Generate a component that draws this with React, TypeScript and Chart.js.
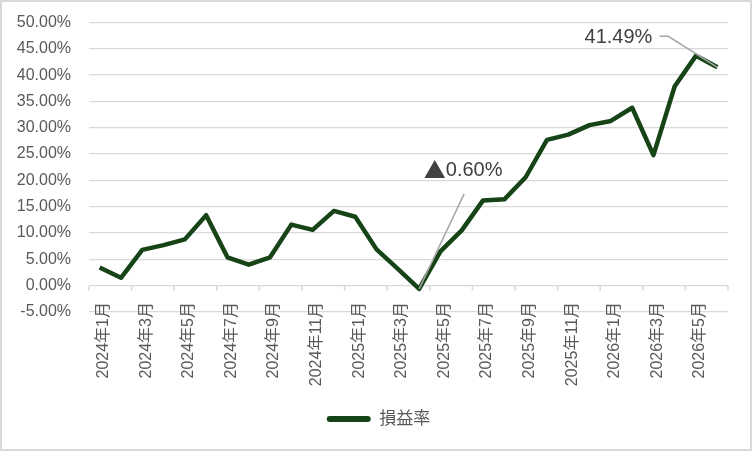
import { useEffect, useRef } from "react";
import Chart from "chart.js/auto";

const months = [
  "2024年1月", "2024年2月", "2024年3月", "2024年4月", "2024年5月", "2024年6月",
  "2024年7月", "2024年8月", "2024年9月", "2024年10月", "2024年11月", "2024年12月",
  "2025年1月", "2025年2月", "2025年3月", "2025年4月", "2025年5月", "2025年6月",
  "2025年7月", "2025年8月", "2025年9月", "2025年10月", "2025年11月", "2025年12月",
  "2026年1月", "2026年2月", "2026年3月", "2026年4月", "2026年5月", "2026年6月",
];

// 損益率 (%)
const profitRate = [
  3.45, 1.5, 6.8, 7.7, 8.8, 13.4, 5.4, 4.0, 5.4, 11.6, 10.6, 14.2, 13.1, 6.9, 3.2,
  -0.6, 6.5, 10.5, 16.2, 16.4, 20.6, 27.7, 28.7, 30.5, 31.3, 33.8, 24.8, 37.9, 43.7,
  41.49,
];

// points that carry a data label
const labelledPoints = [15, 29];

const FONT = "'Liberation Sans', 'Noto Sans CJK JP', sans-serif";
const GREEN = "#174417";
const GRID = "#d9d9d9";
const TEXT = "#595959";

// zero line tick marks (every two months) and the rotated month labels
const monthAxis = {
  id: "monthAxis",
  afterDraw(chart: any) {
    const x = chart.scales.x;
    const y = chart.scales.y;
    const ctx = chart.ctx;
    const y0 = y.getPixelForValue(0);
    const step = x.getPixelForValue(1) - x.getPixelForValue(0);
    ctx.save();
    ctx.strokeStyle = GRID;
    ctx.lineWidth = 1.5;
    ctx.beginPath();
    for (let i = 0; i <= months.length; i += 2) {
      const px = x.getPixelForValue(0) - step / 2 + i * step;
      ctx.moveTo(px, y0);
      ctx.lineTo(px, y0 + 5);
    }
    ctx.stroke();

    ctx.fillStyle = TEXT;
    ctx.font = `16px ${FONT}`;
    ctx.textAlign = "right";
    ctx.textBaseline = "middle";
    const top = y.getPixelForValue(-5) - 10;
    for (let i = 0; i < months.length; i += 2) {
      ctx.save();
      ctx.translate(x.getPixelForValue(i) + 4, top);
      ctx.rotate(-Math.PI / 2);
      ctx.fillText(months[i], 0, 0);
      ctx.restore();
    }
    ctx.restore();
  },
};

// data labels with leader lines
const leaders = {
  id: "leaders",
  afterDatasetsDraw(chart: any) {
    const meta = chart.getDatasetMeta(0);
    const ctx = chart.ctx;
    ctx.save();
    ctx.textBaseline = "middle";
    labelledPoints.forEach((i) => {
      const pt = meta.data[i];
      const v = profitRate[i];
      ctx.strokeStyle = "#a6a6a6";
      ctx.lineWidth = 1.5;
      ctx.fillStyle = "#404040";
      ctx.beginPath();
      if (v < 0) {
        ctx.moveTo(pt.x, pt.y);
        ctx.lineTo(pt.x + 45, pt.y - 95);
        ctx.stroke();
        const num = Math.abs(v).toFixed(2) + "%";
        ctx.font = `20px ${FONT}`;
        const numW = ctx.measureText(num).width;
        ctx.font = `22px 'Noto Sans CJK JP', sans-serif`;
        const triW = ctx.measureText("▲").width;
        const left = pt.x + 44 - (numW + triW) / 2;
        ctx.textAlign = "left";
        ctx.fillText("▲", left, pt.y - 119);
        ctx.font = `20px ${FONT}`;
        ctx.fillText(num, left + triW, pt.y - 118);
      } else {
        ctx.moveTo(pt.x, pt.y);
        ctx.lineTo(pt.x - 49, pt.y - 31);
        ctx.lineTo(pt.x - 58, pt.y - 31);
        ctx.stroke();
        ctx.font = `20px ${FONT}`;
        ctx.textAlign = "right";
        ctx.fillText(v.toFixed(2) + "%", pt.x - 65, pt.y - 30);
      }
    });
    ctx.restore();
  },
};

export default function App() {
  const canvasRef = useRef<HTMLCanvasElement>(null);

  useEffect(() => {
    document.body.style.margin = "0";
    if (!canvasRef.current) return;
    const chart = new Chart(canvasRef.current, {
      type: "line",
      data: {
        labels: months,
        datasets: [
          {
            label: "損益率",
            data: profitRate,
            borderColor: GREEN,
            backgroundColor: GREEN,
            borderWidth: 4.5,
            borderJoinStyle: "round",
            pointRadius: 0,
            tension: 0,
          },
        ],
      },
      options: {
        animation: false,
        responsive: true,
        maintainAspectRatio: false,
        layout: {
          autoPadding: false,
          padding: { top: 20.5, right: 0, left: 5, bottom: 11.5 },
        },
        plugins: {
          tooltip: { enabled: false },
          legend: {
            position: "bottom",
            labels: {
              font: { family: FONT, size: 17 },
              color: TEXT,
              boxWidth: 44,
              boxHeight: 6,
              useBorderRadius: true,
              borderRadius: 3,
              padding: 10,
              generateLabels: (c: any) =>
                Chart.defaults.plugins.legend.labels
                  .generateLabels(c)
                  .map((l: any) => ({ ...l, lineWidth: 0.01, strokeStyle: "rgba(0,0,0,0)" })),
            },
          },
        },
        scales: {
          x: {
            offset: true,
            grid: { display: false, drawTicks: false },
            border: { display: false },
            ticks: { display: false },
            afterFit: (s: any) => {
              s.height = 88.5;
            },
          },
          y: {
            min: -5,
            max: 50,
            grid: { color: GRID, lineWidth: 1.3, drawTicks: false },
            border: { display: false },
            ticks: {
              stepSize: 5,
              padding: 18,
              color: TEXT,
              font: { family: FONT, size: 16 },
              callback: (v: any) => Number(v).toFixed(2) + "%",
            },
            afterFit: (s: any) => {
              s.width = 82;
              s.paddingTop = 0;
              s.paddingBottom = 0;
            },
          },
          // empty right-hand spacer
          yRight: {
            position: "right",
            grid: { display: false, drawTicks: false },
            border: { display: false },
            ticks: { display: false },
            afterFit: (s: any) => {
              s.width = 22;
              s.paddingTop = 0;
              s.paddingBottom = 0;
            },
          },
        },
      },
      plugins: [monthAxis, leaders],
    });
    return () => chart.destroy();
  }, []);

  return (
    <div
      style={{
        width: 752,
        height: 451,
        boxSizing: "border-box",
        border: "2px solid #d9d9d9",
        background: "#fff",
        position: "relative",
      }}
    >
      <canvas ref={canvasRef} />
    </div>
  );
}
